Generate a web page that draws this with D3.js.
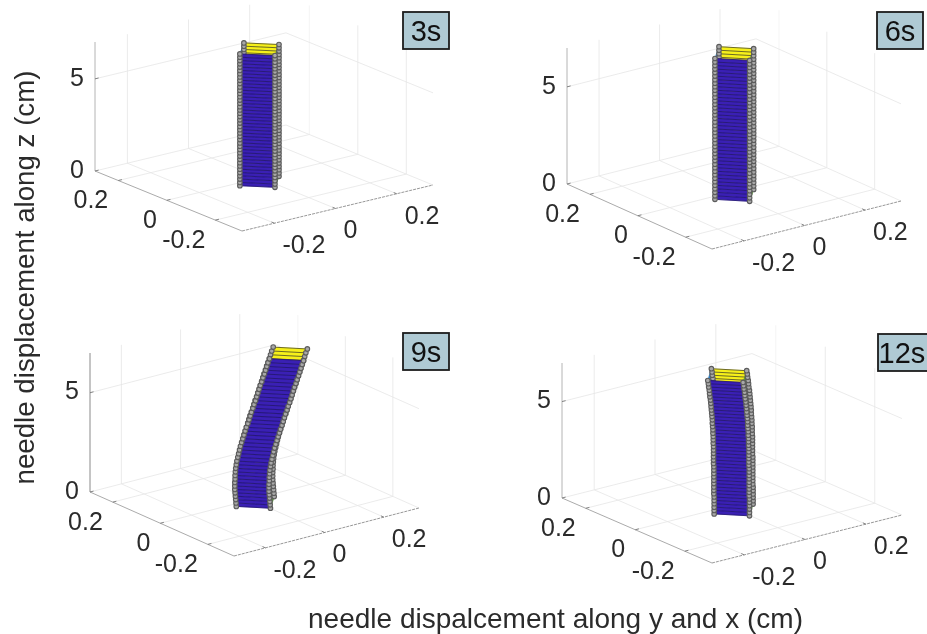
<!DOCTYPE html>
<html>
<head>
<meta charset="utf-8">
<script src="https://cdn.jsdelivr.net/npm/d3@7"></script>
<style>
html, body { margin: 0; padding: 0; background: #fff; }
svg { display: block; filter: blur(0.5px); }
text { font-family: "Liberation Sans", Arial, sans-serif; fill: #2b2b2b; }
</style>
</head>
<body>
<svg id="chart" width="927" height="634"></svg>
<script>
const panelNames = ['3s', '6s', '9s', '12s'];
const xTicks = [-0.2, 0, 0.2];
const yTicks = [-0.2, 0, 0.2];
const zTicks = [0, 5];
const xDomain = [-0.306, 0.319];
const yDomain = [-0.31, 0.296];
const zDomain = [0, 7];

// position along the needle, 0 = base, 1 = tip
const stations = [0, .025, .05, .075, .1, .125, .15, .175, .2, .225, .25, .275, .3, .325, .35, .375, .4, .425, .45, .475,
    .5, .525, .55, .575, .6, .625, .65, .675, .7, .725, .75, .775, .8, .825, .85, .875, .9, .925, .95, .975, 1];
const needleLength = [7.15, 7.25, 7.0, 7.0];

// centre line of the needle (cm)
const centreX3s = [-.018, -.018, -.018, -.018, -.018, -.018, -.018, -.018, -.018, -.018, -.018, -.018, -.018, -.018, -.018, -.018, -.018, -.018, -.018, -.018,
    -.018, -.018, -.018, -.018, -.018, -.018, -.018, -.018, -.018, -.018, -.018, -.018, -.018, -.018, -.018, -.018, -.018, -.018, -.018, -.018, -.018];
const centreY3s = [-.019, -.019, -.019, -.019, -.019, -.019, -.019, -.019, -.019, -.019, -.019, -.019, -.019, -.019, -.019, -.019, -.019, -.019, -.019, -.019,
    -.019, -.019, -.019, -.019, -.019, -.019, -.019, -.019, -.019, -.019, -.019, -.019, -.019, -.019, -.019, -.019, -.019, -.019, -.019, -.019, -.019];
const centreX6s = [-.002, -.002, -.002, -.002, -.002, -.002, -.002, -.002, -.002, -.002, -.002, -.002, -.002, -.002, -.002, -.002, -.002, -.002, -.002, -.002,
    -.002, -.002, -.002, -.002, -.002, -.002, -.002, -.002, -.002, -.002, -.002, -.002, -.002, -.002, -.002, -.002, -.002, -.002, -.002, -.002, -.002];
const centreY6s = [-.019, -.019, -.019, -.019, -.019, -.019, -.019, -.019, -.019, -.019, -.019, -.019, -.019, -.019, -.019, -.019, -.019, -.019, -.019, -.019,
    -.019, -.019, -.019, -.019, -.019, -.019, -.019, -.019, -.019, -.019, -.019, -.019, -.019, -.019, -.019, -.019, -.019, -.019, -.019, -.019, -.019];
const centreX9s = [.001, 0, -.001, -.002, -.003, -.004, -.004, -.004, -.003, -.003, -.002, -.001, .001, .003, .006, .009, .012, .015, .019, .023,
    .027, .031, .035, .04, .044, .048, .052, .057, .061, .066, .07, .074, .078, .082, .087, .091, .096, .1, .104, .108, .113];
const centreY9s = [-.017, -.017, -.017, -.017, -.017, -.017, -.017, -.017, -.017, -.017, -.017, -.017, -.017, -.017, -.017, -.017, -.017, -.017, -.017, -.017,
    -.017, -.017, -.017, -.017, -.017, -.017, -.017, -.017, -.017, -.017, -.017, -.017, -.017, -.017, -.017, -.017, -.017, -.017, -.017, -.017, -.017];
const centreX12s = [-.002, -.002, -.002, -.002, -.002, -.002, -.003, -.003, -.003, -.003, -.003, -.003, -.003, -.003, -.003, -.004, -.004, -.004, -.004, -.004,
    -.004, -.005, -.005, -.005, -.006, -.006, -.007, -.008, -.008, -.009, -.01, -.011, -.012, -.013, -.014, -.016, -.017, -.018, -.02, -.021, -.023];
const centreY12s = [-.024, -.024, -.024, -.024, -.024, -.024, -.024, -.024, -.024, -.024, -.024, -.024, -.024, -.024, -.024, -.024, -.024, -.024, -.024, -.024,
    -.024, -.024, -.024, -.024, -.024, -.024, -.024, -.024, -.024, -.024, -.024, -.024, -.024, -.024, -.024, -.024, -.024, -.024, -.024, -.024, -.024];
const centreX = [centreX3s, centreX6s, centreX9s, centreX12s];
const centreY = [centreY3s, centreY6s, centreY9s, centreY12s];

// four wires around the centre line: front-left, front-right, back-right, back-left
const wireX = [-0.064, 0, 0.064, 0];
const wireY = [0, -0.064, 0, 0.064];

// where each 3d box sits on the page
const layout = [
    { left: [95, 171], front: [242, 231], right: [433, 185], h: 129, box: [403, 12, 46, 37], axis: '#b4b4b4' },
    { left: [567, 184], front: [712, 249], right: [901, 201], h: 136, box: [877, 12, 46, 37], axis: '#b4b4b4' },
    { left: [90, 492], front: [234, 556], right: [419, 508], h: 139, box: [403, 333, 46, 37], axis: '#8a8a8a' },
    { left: [562, 498], front: [712, 563], right: [902, 515], h: 135, box: [878, 334, 50, 37], axis: '#b4b4b4' }
];

const svg = d3.select('#chart');
const uScale = d3.scaleLinear().domain(xDomain).range([0, 1]);
const vScale = d3.scaleLinear().domain(yDomain).range([0, 1]);
const wScale = d3.scaleLinear().domain(zDomain).range([0, 1]);
const poly = pts => 'M' + pts.map(p => p.join(',')).join('L') + 'Z';

function drawPanel(i) {
    const L = layout[i];
    const g = svg.append('g');
    const ax = [L.right[0] - L.front[0], L.right[1] - L.front[1]];
    const bx = [L.left[0] - L.front[0], L.left[1] - L.front[1]];

    // x, y, z in cm to page pixels
    const project = (x, y, z) => {
        const u = uScale(x), v = vScale(y), w = wScale(z);
        return [L.front[0] + u * ax[0] + v * bx[0], L.front[1] + u * ax[1] + v * bx[1] - w * L.h];
    };
    const [x0, x1] = xDomain, [y0, y1] = yDomain, [z0, z1] = zDomain;

    const seg = (a, b, color, width) => g.append('line')
        .attr('x1', a[0]).attr('y1', a[1]).attr('x2', b[0]).attr('y2', b[1])
        .attr('stroke', color).attr('stroke-width', width);
    const gridColor = '#e6e6e6';

    // floor and wall grid
    xTicks.forEach(t => {
        seg(project(t, y0, 0), project(t, y1, 0), gridColor, 0.8);
        seg(project(t, y1, 0), project(t, y1, z1), gridColor, 0.8);
    });
    yTicks.forEach(t => {
        seg(project(x0, t, 0), project(x1, t, 0), gridColor, 0.8);
        seg(project(x1, t, 0), project(x1, t, z1), t > 0.1 ? '#f1f1f1' : gridColor, 0.8);
    });
    zTicks.forEach(t => {
        seg(project(x0, y1, t), project(x1, y1, t), gridColor, 0.8);
        seg(project(x1, y1, t), project(x1, y0, t), gridColor, 0.8);
    });

    // axis lines
    seg(project(x0, y1, 0), project(x0, y0, 0), '#a0a0a0', 0.9);
    seg(project(x0, y0, 0), project(x1, y0, 0), '#8c8c8c', 0.9).attr('stroke-dasharray', '3 1');
    seg(project(x0, y1, 0), project(x0, y1, z1), L.axis, 1);

    // ticks and labels
    xTicks.forEach(t => {
        const p = project(t, y0, 0), q = project(t, y0 + 0.012, 0);
        seg(p, q, '#777', 0.9);
        g.append('text').attr('x', p[0] + 8).attr('y', p[1] + 21).attr('dy', '.35em')
            .attr('font-size', 25).text(t);
    });
    yTicks.forEach(t => {
        const p = project(x0, t, 0), q = project(x0 + 0.012, t, 0);
        seg(p, q, '#777', 0.9);
        g.append('text').attr('x', p[0] - 10).attr('y', p[1] + 19).attr('dy', '.35em')
            .attr('text-anchor', 'end').attr('font-size', 25).text(t);
    });
    zTicks.forEach(t => {
        const p = project(x0, y1, t), q = project(x0 + 0.012, y1, t);
        seg(p, q, '#777', 0.9);
        g.append('text').attr('x', p[0] - 11).attr('y', p[1] - 2).attr('dy', '.35em')
            .attr('text-anchor', 'end').attr('font-size', 25).text(t);
    });

    // needle wires, one list of points per wire
    const wires = wireX.map((wx, k) => stations.map((s, n) =>
        project(centreX[i][n] + wx, centreY[i][n] + wireY[k], s * needleLength[i])));
    const segs = stations.slice(1).map((s, n) => n);

    const face = (a, b, fill, rung, rungWidth) => {
        g.append('g').selectAll('path').data(segs).join('path')
            .attr('d', n => poly([wires[a][n], wires[b][n], wires[b][n + 1], wires[a][n + 1]]))
            .attr('fill', fill).attr('stroke', fill).attr('stroke-width', 0.4);
        g.append('g').selectAll('line').data(stations.map((s, n) => n)).join('line')
            .attr('x1', n => wires[a][n][0]).attr('y1', n => wires[a][n][1])
            .attr('x2', n => wires[b][n][0]).attr('y2', n => wires[b][n][1])
            .attr('stroke', rung).attr('stroke-width', rungWidth);
    };
    const nodes = k => g.append('g').selectAll('circle').data(wires[k]).join('circle')
        .attr('cx', d => d[0]).attr('cy', d => d[1]).attr('r', 2.3)
        .attr('fill', '#a8a8a8').attr('stroke', '#5c5c5c').attr('stroke-width', 1.1);

    face(3, 2, '#f6f01a', '#5c5a20', 0.9);
    face(0, 3, '#2a80c8', '#2a80c8', 0.5);
    nodes(3);
    face(1, 2, '#5f9f3a', '#4c8a30', 0.6);
    nodes(2);
    face(0, 1, '#3a20b4', '#20136e', 0.8);
    nodes(0);
    nodes(1);

    // time label
    const [bx0, by0, bw, bh] = L.box;
    g.append('rect').attr('x', bx0).attr('y', by0).attr('width', bw).attr('height', bh)
        .attr('fill', '#afcad4').attr('stroke', '#1c1c1c').attr('stroke-width', 1.8);
    g.append('text').attr('x', bx0 + (i === 3 ? 24 : bw / 2)).attr('y', by0 + bh / 2).attr('dy', '.36em')
        .attr('text-anchor', 'middle').attr('font-size', 29).style('fill', '#111').text(panelNames[i]);
}

panelNames.forEach((name, i) => drawPanel(i));

svg.append('text').attr('transform', 'translate(24,277.5) rotate(-90)')
    .attr('dy', '.35em').attr('text-anchor', 'middle').attr('font-size', 27.7)
    .text('needle displacement along z (cm)');
svg.append('text').attr('x', 555.5).attr('y', 618).attr('dy', '.35em')
    .attr('text-anchor', 'middle').attr('font-size', 28)
    .text('needle dispalcement along y and x (cm)');
</script>
</body>
</html>
